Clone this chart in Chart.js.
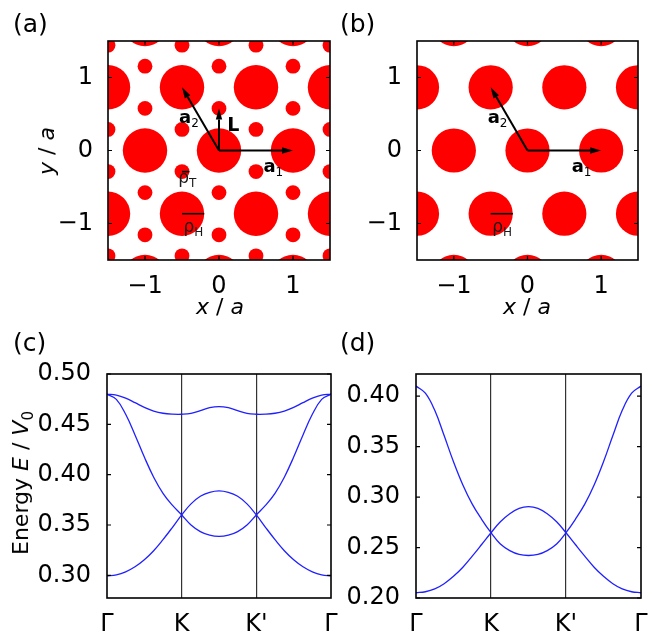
<!DOCTYPE html>
<html>
<head>
<meta charset="utf-8">
<script src="https://cdn.jsdelivr.net/npm/chart.js@4.4.1/dist/chart.umd.min.js"></script>
<style>
  body { margin: 0; width: 657px; height: 635px; position: relative; overflow: hidden; background: #fff;
         font-family: "DejaVu Sans", sans-serif; color: #000; }
  canvas { position: absolute; }
  .panel { position: absolute; font-size: 25px; line-height: 1; }
  .title { position: absolute; font-size: 22px; line-height: 1; white-space: nowrap; }
  .rot { transform: translate(-50%, -50%) rotate(-90deg); }
  .hor { transform: translate(-50%, 0); }
  sub { font-size: 15px; line-height: 0; }
</style>
</head>
<body>
<canvas id="chartA" width="340" height="320" style="left:0;top:0"></canvas>
<canvas id="chartB" width="327" height="320" style="left:330px;top:0"></canvas>
<canvas id="chartC" width="340" height="315" style="left:0;top:320px"></canvas>
<canvas id="chartD" width="327" height="315" style="left:330px;top:320px"></canvas>

<div class="panel" style="left:13px;top:11px">(a)</div>
<div class="panel" style="left:340px;top:11px">(b)</div>
<div class="panel" style="left:13px;top:330px">(c)</div>
<div class="panel" style="left:340px;top:330px">(d)</div>

<div class="title rot" style="left:47px;top:151px"><i>y</i> / <i>a</i></div>
<div class="title hor" style="left:220px;top:296px"><i>x</i> / <i>a</i></div>
<div class="title hor" style="left:527px;top:296px"><i>x</i> / <i>a</i></div>
<div class="title rot" style="left:21px;top:483px">Energy <i>E</i> / <i>V</i><sub>0</sub></div>

<script>
// 격자 위치 (단위 a)
const bigSites = [
  [-1, -1.732], [0, -1.732], [1, -1.732],
  [-1.5, -0.866], [-0.5, -0.866], [0.5, -0.866], [1.5, -0.866],
  [-1, 0], [0, 0], [1, 0],
  [-1.5, 0.866], [-0.5, 0.866], [0.5, 0.866], [1.5, 0.866],
  [-1, 1.732], [0, 1.732], [1, 1.732]
];
const smallSites = [
  [-1.5, -1.443], [-0.5, -1.443], [0.5, -1.443], [1.5, -1.443],
  [-1, -1.155], [0, -1.155], [1, -1.155],
  [-1, -0.577], [0, -0.577], [1, -0.577],
  [-1.5, -0.289], [-0.5, -0.289], [0.5, -0.289], [1.5, -0.289],
  [-1.5, 0.289], [-0.5, 0.289], [0.5, 0.289], [1.5, 0.289],
  [-1, 0.577], [0, 0.577], [1, 0.577],
  [-1, 1.155], [0, 1.155], [1, 1.155],
  [-1.5, 1.443], [-0.5, 1.443], [0.5, 1.443], [1.5, 1.443]
];
const bigRadius = 0.3;
const smallRadius = 0.1;
const latticeTicks = [-1, 0, 1];

// 밴드 구조
const kPath = [0, 0.125, 0.25, 0.375, 0.5, 0.625, 0.75, 0.875, 1,
               1.125, 1.25, 1.375, 1.5, 1.625, 1.75, 1.875, 2,
               2.125, 2.25, 2.375, 2.5, 2.625, 2.75, 2.875, 3];
const kTicks = [0, 1, 2, 3];
const kLabels = ['Γ', 'K', "K'", 'Γ'];

const bandC1 = [0.480, 0.4748, 0.460, 0.4395, 0.4175, 0.3975, 0.3815, 0.3697, 0.360,
                0.350, 0.3435, 0.340, 0.3388, 0.340, 0.3435, 0.350, 0.360,
                0.3697, 0.3815, 0.3975, 0.4175, 0.4395, 0.460, 0.4748, 0.480];
const bandC2 = [0.2995, 0.3005, 0.3035, 0.3085, 0.3155, 0.3245, 0.3355, 0.3475, 0.360,
                0.371, 0.3785, 0.3825, 0.384, 0.3825, 0.3785, 0.371, 0.360,
                0.3475, 0.3355, 0.3245, 0.3155, 0.3085, 0.3035, 0.3005, 0.2995];
const bandC3 = [0.480, 0.479, 0.476, 0.4715, 0.4668, 0.4632, 0.461, 0.4601, 0.460,
                0.4608, 0.4635, 0.4665, 0.4676, 0.4665, 0.4635, 0.4608, 0.460,
                0.4601, 0.461, 0.4632, 0.4668, 0.4715, 0.476, 0.479, 0.480];
const ticksC = [0.30, 0.35, 0.40, 0.45, 0.50];

const bandD1 = [0.410, 0.403, 0.386, 0.361, 0.335, 0.312, 0.293, 0.278, 0.2647,
                0.2535, 0.247, 0.2432, 0.2421, 0.2432, 0.247, 0.2535, 0.2647,
                0.278, 0.293, 0.312, 0.335, 0.361, 0.386, 0.403, 0.410];
const bandD2 = [0.2052, 0.2062, 0.209, 0.2142, 0.2215, 0.2305, 0.2415, 0.253, 0.2647,
                0.2755, 0.2835, 0.2888, 0.2905, 0.2888, 0.2835, 0.2755, 0.2647,
                0.253, 0.2415, 0.2305, 0.2215, 0.2142, 0.209, 0.2062, 0.2052];
const ticksD = [0.20, 0.25, 0.30, 0.35, 0.40];

const FONT = 'DejaVu Sans';
const tickFont = { family: FONT, size: 24 };

// 테두리 + 안쪽 눈금
const framePlugin = {
  id: 'frame',
  afterDraw(chart, args, opts) {
    const { ctx, chartArea: a, scales } = chart;
    const len = 4;
    ctx.save();
    ctx.strokeStyle = '#000';
    ctx.lineWidth = 1.2;
    ctx.beginPath();
    if (opts.xTicks) {
      scales.x.ticks.forEach(t => {
        const p = scales.x.getPixelForValue(t.value);
        ctx.moveTo(p, a.bottom); ctx.lineTo(p, a.bottom - len);
        ctx.moveTo(p, a.top); ctx.lineTo(p, a.top + len);
      });
    }
    if (opts.yTicks) {
      scales.y.ticks.forEach(t => {
        const p = scales.y.getPixelForValue(t.value);
        ctx.moveTo(a.left, p); ctx.lineTo(a.left + len, p);
        ctx.moveTo(a.right, p); ctx.lineTo(a.right - len, p);
      });
    }
    ctx.stroke();
    ctx.lineWidth = 1.6;
    ctx.strokeRect(a.left, a.top, a.right - a.left, a.bottom - a.top);
    ctx.restore();
  }
};

// 격자 벡터, 반지름 표시, 라벨
const vectorPlugin = {
  id: 'vectors',
  afterDatasetsDraw(chart, args, opts) {
    const { ctx, scales: { x, y } } = chart;
    const px = v => x.getPixelForValue(v);
    const py = v => y.getPixelForValue(v);
    ctx.save();
    ctx.strokeStyle = '#000';
    ctx.fillStyle = '#000';
    (opts.arrows || []).forEach(([x0, y0, x1, y1]) => {
      const X0 = px(x0), Y0 = py(y0), X1 = px(x1), Y1 = py(y1);
      const ang = Math.atan2(Y1 - Y0, X1 - X0);
      const hl = 11, hw = 3.2;
      const bx = X1 - hl * Math.cos(ang), by = Y1 - hl * Math.sin(ang);
      ctx.lineWidth = 2;
      ctx.beginPath(); ctx.moveTo(X0, Y0); ctx.lineTo(bx, by); ctx.stroke();
      ctx.beginPath();
      ctx.moveTo(X1, Y1);
      ctx.lineTo(bx - hw * Math.sin(ang), by + hw * Math.cos(ang));
      ctx.lineTo(bx + hw * Math.sin(ang), by - hw * Math.cos(ang));
      ctx.closePath(); ctx.fill();
    });
    (opts.bars || []).forEach(([x0, y0, x1, y1]) => {
      ctx.lineWidth = 1.6;
      ctx.beginPath(); ctx.moveTo(px(x0), py(y0)); ctx.lineTo(px(x1), py(y1)); ctx.stroke();
    });
    ctx.textBaseline = 'alphabetic';
    (opts.labels || []).forEach(l => {
      const X = px(l.x), Y = py(l.y);
      ctx.fillStyle = l.bold ? '#000' : '#1a1a1a';
      ctx.font = (l.bold ? 'bold ' : '') + l.size + 'px "' + FONT + '"';
      ctx.fillText(l.text, X, Y);
      const w = ctx.measureText(l.text).width;
      if (l.sub) {
        ctx.font = '12px "' + FONT + '"';
        ctx.fillText(l.sub, X + w, Y + 4);
      }
    });
    ctx.restore();
  }
};

function radiusPx(chart, r) {
  const s = chart.scales.x;
  return Math.abs(s.getPixelForValue(r) - s.getPixelForValue(0));
}

function fmtLattice(v) {
  return v < 0 ? '\u2212' + Math.abs(v) : String(v);
}

// 라벨이 차트 영역을 줄이지 않도록 축 크기 고정
function fixX(h) {
  return s => { s.height = h; s.paddingLeft = 0; s.paddingRight = 0; };
}
function fixY(w) {
  return s => { s.width = w; s.paddingTop = 0; s.paddingBottom = 0; };
}

function latticeChart(id, layers, yWidth, padRight, annot) {
  return new Chart(document.getElementById(id), {
    type: 'scatter',
    data: {
      datasets: layers.map(l => ({
        data: l.sites.map(p => ({ x: p[0], y: p[1] })),
        backgroundColor: '#ff0000',
        borderWidth: 0,
        pointRadius: c => radiusPx(c.chart, l.r),
        pointHoverRadius: c => radiusPx(c.chart, l.r),
        clip: 0
      }))
    },
    options: {
      responsive: false,
      animation: false,
      events: [],
      layout: { padding: { left: 0, top: 41, right: padRight, bottom: 0 } },
      plugins: {
        legend: { display: false },
        tooltip: { enabled: false },
        frame: { xTicks: true, yTicks: true },
        vectors: annot
      },
      scales: {
        x: {
          type: 'linear', min: -1.5, max: 1.5,
          afterBuildTicks: s => { s.ticks = latticeTicks.map(v => ({ value: v })); },
          afterFit: fixX(60),
          grid: { display: false, drawTicks: false },
          border: { display: false },
          ticks: { font: tickFont, color: '#000', padding: 12, autoSkip: false, maxRotation: 0, callback: fmtLattice }
        },
        y: {
          type: 'linear', min: -1.5, max: 1.5,
          afterBuildTicks: s => { s.ticks = latticeTicks.map(v => ({ value: v })); },
          afterFit: fixY(yWidth),
          grid: { display: false, drawTicks: false },
          border: { display: false },
          ticks: { font: tickFont, color: '#000', padding: 15, autoSkip: false, callback: fmtLattice }
        }
      }
    },
    plugins: [vectorPlugin, framePlugin]
  });
}

function bandChart(id, bands, yMin, yMax, yTicks, yWidth, padRight) {
  return new Chart(document.getElementById(id), {
    type: 'line',
    data: {
      datasets: bands.map(b => ({
        data: kPath.map((k, i) => ({ x: k, y: b[i] })),
        borderColor: '#2020ff',
        borderWidth: 1.3,
        pointRadius: 0,
        fill: false,
        tension: 0.4,
        clip: 0
      }))
    },
    options: {
      responsive: false,
      animation: false,
      events: [],
      layout: { padding: { left: 0, top: 54, right: padRight, bottom: 0 } },
      plugins: {
        legend: { display: false },
        tooltip: { enabled: false },
        frame: { xTicks: false, yTicks: true }
      },
      scales: {
        x: {
          type: 'linear', min: 0, max: 3,
          afterBuildTicks: s => { s.ticks = kTicks.map(v => ({ value: v })); },
          afterFit: fixX(37),
          grid: {
            drawTicks: false,
            lineWidth: 1.2,
            color: c => (c.index > 0 && c.index < kTicks.length - 1) ? '#333' : 'rgba(0,0,0,0)'
          },
          border: { display: false },
          ticks: { font: tickFont, color: '#000', padding: 12, autoSkip: false, maxRotation: 0,
                   callback: (v, i) => kLabels[i] }
        },
        y: {
          type: 'linear', min: yMin, max: yMax,
          afterBuildTicks: s => { s.ticks = yTicks.map(v => ({ value: v })); },
          afterFit: fixY(yWidth),
          grid: { display: false, drawTicks: false },
          border: { display: false },
          ticks: { font: tickFont, color: '#000', padding: 16, autoSkip: false, callback: v => v.toFixed(2) }
        }
      }
    },
    plugins: [framePlugin]
  });
}

latticeChart('chartA',
  [{ sites: bigSites, r: bigRadius }, { sites: smallSites, r: smallRadius }],
  108, 10,
  {
    arrows: [[0, 0, 1, 0], [0, 0, -0.5, 0.866], [0, 0, 0, 0.577]],
    bars: [[-0.5, -0.289, -0.4, -0.289], [-0.5, -0.866, -0.2, -0.866]],
    labels: [
      { x: 0.60, y: -0.29, text: 'a', sub: '1', bold: true, size: 18 },
      { x: -0.54, y: 0.38, text: 'a', sub: '2', bold: true, size: 18 },
      { x: 0.11, y: 0.27, text: 'L', bold: true, size: 19 },
      { x: -0.55, y: -0.45, text: 'ρ', sub: 'T', size: 17 },
      { x: -0.48, y: -1.12, text: 'ρ', sub: 'H', size: 17 }
    ]
  });

latticeChart('chartB',
  [{ sites: bigSites, r: bigRadius }],
  87, 19,
  {
    arrows: [[0, 0, 1, 0], [0, 0, -0.5, 0.866]],
    bars: [[-0.5, -0.866, -0.2, -0.866]],
    labels: [
      { x: 0.60, y: -0.29, text: 'a', sub: '1', bold: true, size: 18 },
      { x: -0.54, y: 0.38, text: 'a', sub: '2', bold: true, size: 18 },
      { x: -0.48, y: -1.12, text: 'ρ', sub: 'H', size: 17 }
    ]
  });

bandChart('chartC', [bandC1, bandC2, bandC3], 0.2775, 0.50, ticksC, 107, 9);
bandChart('chartD', [bandD1, bandD2], 0.20, 0.422, ticksD, 86, 16);
</script>
</body>
</html>
